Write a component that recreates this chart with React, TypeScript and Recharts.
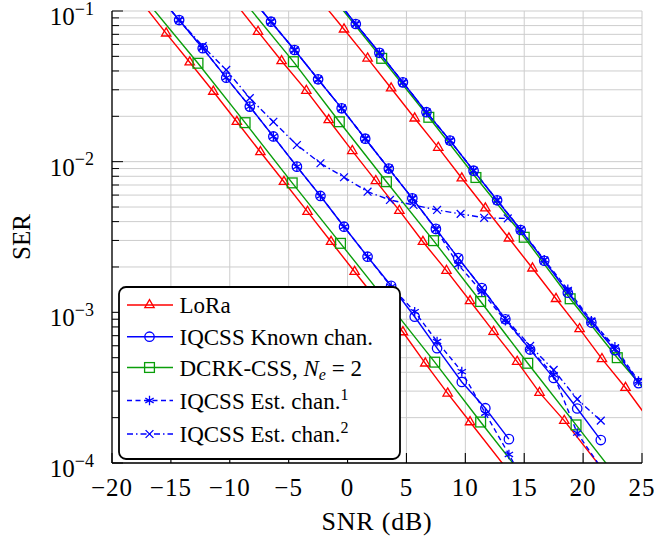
import React from 'react';
import { ComposedChart, Line, XAxis, YAxis, CartesianGrid, Legend } from 'recharts';

const FONT = '"Liberation Serif", "Times New Roman", "DejaVu Serif", serif';
const TXT: React.CSSProperties = { fontFamily: FONT };
const RED = '#ff0000';
const BLUE = '#0000ff';
const GREEN = '#0a9e0a';

// ---------- tick values ----------
const xTicks = [-20, -15, -10, -5, 0, 5, 10, 15, 20, 25];
const yTicks = [
  0.0001, 0.0002, 0.0003, 0.0004, 0.0005, 0.0006, 0.0007, 0.0008, 0.0009,
  0.001, 0.002, 0.003, 0.004, 0.005, 0.006, 0.007, 0.008, 0.009,
  0.01, 0.02, 0.03, 0.04, 0.05, 0.06, 0.07, 0.08, 0.09, 0.1,
];
const yMajor = [0.0001, 0.001, 0.01, 0.1];
const yMajorExp = ['−4', '−3', '−2', '−1'];

// ---------- group A (leftmost) ----------
const loraA_snr = [-17.7, -15.4, -13.4, -11.4, -9.4, -7.4, -5.4, -3.4, -1.4, 0.6, 2.6, 4.7, 6.6, 8.5, 10.4, 14.1];
const loraA_ser = [0.12, 0.0711, 0.0457, 0.0292, 0.0184, 0.0116, 0.00736, 0.00466, 0.00294, 0.00186, 0.00118, 0.00074, 0.000459, 0.00029, 0.000187, 0.00008];

const knownA_snr = [-15.8, -14.3, -12.3, -10.3, -8.3, -6.3, -4.3, -2.3, -0.3, 1.7, 3.7, 5.7, 7.6, 9.7, 11.7, 13.7];
const knownA_ser = [0.12, 0.0871, 0.0566, 0.0361, 0.0232, 0.0147, 0.00927, 0.00592, 0.0037, 0.00234, 0.0015, 0.000935, 0.000578, 0.000345, 0.000231, 0.000144];

const est1A_snr = [-15.8, -14.3, -12.3, -10.3, -8.3, -6.3, -4.3, -2.3, -0.3, 1.7, 3.7, 5.7, 7.6, 9.7, 11.7, 13.7, 14.8];
const est1A_ser = [0.12, 0.0871, 0.0566, 0.0361, 0.0232, 0.0147, 0.00927, 0.00592, 0.0037, 0.00234, 0.00148, 0.00101, 0.00064, 0.000404, 0.000214, 0.000114, 0.00008];

const est2A_snr = [-15.8, -14.3, -12.3, -10.3, -8.3, -6.3, -4.3, -2.3, -0.3, 1.7, 3.6, 5.6, 7.6, 9.6, 11.6, 13.6];
const est2A_ser = [0.12, 0.0871, 0.0585, 0.0406, 0.0264, 0.0184, 0.0129, 0.00976, 0.00788, 0.00632, 0.00557, 0.00516, 0.00478, 0.0045, 0.00424, 0.0042];

const dcrkA_snr = [-17.2, -12.7, -8.7, -4.7, -0.6, 3.4, 7.4, 11.3, 15.0];
const dcrkA_ser = [0.12, 0.045, 0.01815, 0.00723, 0.00287, 0.00116, 0.000467, 0.000187, 0.00008];

// ---------- group B (middle) ----------
const loraB_snr = [-9.8, -7.6, -5.6, -3.5, -1.6, 0.4, 2.4, 4.4, 6.4, 8.4, 10.4, 12.4, 14.4, 16.3, 18.4, 22.2];
const loraB_ser = [0.12, 0.0729, 0.0466, 0.0296, 0.0189, 0.0118, 0.00745, 0.00473, 0.00294, 0.00189, 0.00119, 0.000745, 0.000471, 0.000293, 0.000191, 0.00008];

const knownB_snr = [-8.1, -6.5, -4.5, -2.5, -0.5, 1.5, 3.5, 5.5, 7.5, 9.4, 11.4, 13.4, 15.5, 17.5, 19.5, 21.5];
const knownB_ser = [0.12, 0.0849, 0.0551, 0.0352, 0.0226, 0.0142, 0.009, 0.00571, 0.00358, 0.00229, 0.00145, 0.0009, 0.000566, 0.000367, 0.00023, 0.000142];

const est1B_snr = [-8.1, -6.5, -4.5, -2.5, -0.5, 1.5, 3.5, 5.5, 7.5, 9.4, 11.4, 13.4, 15.5, 17.5, 19.5, 22.1];
const est1B_ser = [0.12, 0.0849, 0.0551, 0.0352, 0.0226, 0.0142, 0.009, 0.00571, 0.00355, 0.00207, 0.00137, 0.00088, 0.00057, 0.000385, 0.000158, 0.00008];

const est2B_snr = [-8.1, -6.5, -4.5, -2.5, -0.5, 1.5, 3.5, 5.5, 7.5, 9.4, 11.4, 13.4, 15.5, 17.5, 19.5, 21.5];
const est2B_ser = [0.12, 0.0849, 0.0551, 0.0352, 0.0226, 0.0142, 0.009, 0.00571, 0.00358, 0.00229, 0.00145, 0.00091, 0.000598, 0.000415, 0.000265, 0.000191];

const dcrkB_snr = [-8.95, -4.6, -0.7, 3.3, 7.3, 11.3, 15.3, 19.4, 22.9];
const dcrkB_ser = [0.12, 0.0461, 0.0184, 0.00736, 0.00299, 0.00118, 0.000459, 0.000179, 0.00008];

// ---------- group C (right) ----------
const loraC_snr = [-2.4, -0.3, 1.7, 3.7, 5.7, 7.7, 9.7, 11.7, 13.7, 15.7, 17.7, 19.7, 21.6, 23.6, 26];
const loraC_ser = [0.12, 0.0756, 0.0485, 0.0307, 0.0194, 0.0124, 0.00776, 0.00491, 0.0031, 0.00196, 0.00123, 0.000776, 0.000491, 0.000316, 0.000175];

const knownC_snr = [-1.0, 0.7, 2.7, 4.7, 6.7, 8.7, 10.7, 12.7, 14.7, 16.7, 18.7, 20.7, 22.7, 24.7];
const knownC_ser = [0.12, 0.082, 0.0528, 0.0336, 0.0213, 0.0138, 0.00871, 0.00554, 0.00352, 0.0022, 0.00135, 0.000855, 0.00056, 0.000339];

const est1C_snr = [-1.0, 0.7, 2.7, 4.7, 6.7, 8.7, 10.7, 12.7, 14.7, 16.7, 18.7, 20.7, 22.7, 24.7];
const est1C_ser = [0.12, 0.082, 0.0528, 0.0336, 0.0213, 0.0138, 0.00871, 0.00556, 0.00355, 0.00223, 0.00142, 0.00088, 0.00059, 0.00035];

const est2C_snr = [-1.0, 0.7, 2.7, 4.7, 6.7, 8.7, 10.7, 12.7, 14.7, 16.7, 18.7, 20.7, 22.7, 24.7];
const est2C_ser = [0.12, 0.082, 0.0528, 0.0336, 0.0213, 0.0138, 0.00871, 0.00554, 0.00352, 0.00221, 0.00137, 0.00087, 0.000575, 0.000345];

const dcrkC_snr = [-1.15, 2.9, 6.9, 10.9, 15.0, 18.9, 22.9, 26];
const dcrkC_ser = [0.12, 0.0485, 0.0197, 0.00785, 0.00315, 0.00123, 0.0005, 0.00026];

const zip = (xs: number[], ys: number[]) => xs.map((x, i) => ({ x, y: ys[i] }));

// ---------- markers ----------
type Kind = 'tri' | 'circ' | 'sq' | 'ast' | 'x';

function Marker({ cx, cy, kind, color }: { cx: number; cy: number; kind: Kind; color: string }) {
  if (cx == null || cy == null || isNaN(cx) || isNaN(cy)) return null;
  const sw = 1.3;
  if (kind === 'tri') {
    const r = 5.4;
    const d = `M${cx},${cy - r} L${cx + r * 0.866},${cy + r * 0.5} L${cx - r * 0.866},${cy + r * 0.5} Z`;
    return <path d={d} fill="none" stroke={color} strokeWidth={sw} />;
  }
  if (kind === 'circ') {
    return <circle cx={cx} cy={cy} r={4.7} fill="none" stroke={color} strokeWidth={sw} />;
  }
  if (kind === 'sq') {
    const h = 4.9;
    return <rect x={cx - h} y={cy - h} width={2 * h} height={2 * h} fill="none" stroke={color} strokeWidth={sw} />;
  }
  if (kind === 'ast') {
    const r = 4.8;
    const a = r * 0.866;
    const b = r * 0.5;
    const d = `M${cx},${cy - r} L${cx},${cy + r} M${cx - a},${cy - b} L${cx + a},${cy + b} M${cx - a},${cy + b} L${cx + a},${cy - b}`;
    return <path d={d} fill="none" stroke={color} strokeWidth={sw} />;
  }
  const r = 3.9;
  const d = `M${cx - r},${cy - r} L${cx + r},${cy + r} M${cx - r},${cy + r} L${cx + r},${cy - r}`;
  return <path d={d} fill="none" stroke={color} strokeWidth={sw} />;
}

const dotFn = (kind: Kind, color: string) => (props: any) => (
  <Marker key={`m-${props.index}`} cx={props.cx} cy={props.cy} kind={kind} color={color} />
);

const DASHED = '5 3.5';
const DASHDOT = '6 3 1.5 3';

type SeriesDef = { name: string; data: { x: number; y: number }[]; color: string; kind: Kind; dash?: string };

const series: SeriesDef[] = [
  { name: 'loraA', data: zip(loraA_snr, loraA_ser), color: RED, kind: 'tri' },
  { name: 'loraB', data: zip(loraB_snr, loraB_ser), color: RED, kind: 'tri' },
  { name: 'loraC', data: zip(loraC_snr, loraC_ser), color: RED, kind: 'tri' },
  { name: 'dcrkA', data: zip(dcrkA_snr, dcrkA_ser), color: GREEN, kind: 'sq' },
  { name: 'dcrkB', data: zip(dcrkB_snr, dcrkB_ser), color: GREEN, kind: 'sq' },
  { name: 'dcrkC', data: zip(dcrkC_snr, dcrkC_ser), color: GREEN, kind: 'sq' },
  { name: 'knownA', data: zip(knownA_snr, knownA_ser), color: BLUE, kind: 'circ' },
  { name: 'knownB', data: zip(knownB_snr, knownB_ser), color: BLUE, kind: 'circ' },
  { name: 'knownC', data: zip(knownC_snr, knownC_ser), color: BLUE, kind: 'circ' },
  { name: 'est1A', data: zip(est1A_snr, est1A_ser), color: BLUE, kind: 'ast', dash: DASHED },
  { name: 'est1B', data: zip(est1B_snr, est1B_ser), color: BLUE, kind: 'ast', dash: DASHED },
  { name: 'est1C', data: zip(est1C_snr, est1C_ser), color: BLUE, kind: 'ast', dash: DASHED },
  { name: 'est2A', data: zip(est2A_snr, est2A_ser), color: BLUE, kind: 'x', dash: DASHDOT },
  { name: 'est2B', data: zip(est2B_snr, est2B_ser), color: BLUE, kind: 'x', dash: DASHDOT },
  { name: 'est2C', data: zip(est2C_snr, est2C_ser), color: BLUE, kind: 'x', dash: DASHDOT },
];

// ---------- ticks ----------
const fmtX = (v: number) => (v < 0 ? `−${-v}` : `${v}`);

const XTickBottom = (p: any) => {
  const { x, y, payload } = p;
  return (
    <g>
      <line x1={x} x2={x} y1={y} y2={y - 10} stroke="#000" strokeWidth={1.1} />
      <text x={x} y={y + 33} textAnchor="middle" style={TXT} fontSize={25} letterSpacing={1} fill="#000">
        {fmtX(payload.value)}
      </text>
    </g>
  );
};

const XTickTop = (p: any) => {
  const { x, y } = p;
  return <line x1={x} x2={x} y1={y} y2={y + 10} stroke="#000" strokeWidth={1.1} />;
};

const majorIndex = (v: number) => yMajor.findIndex((m) => Math.abs(m - v) / m < 1e-6);

const YTickLeft = (p: any) => {
  const { x, y, payload } = p;
  const mi = majorIndex(payload.value);
  const len = mi >= 0 ? 11 : 7;
  return (
    <g>
      <line x1={x} x2={x + len} y1={y} y2={y} stroke="#000" strokeWidth={1} />
      {mi >= 0 && (
        <text x={x - 18} y={y + 14} textAnchor="end" style={TXT} fontSize={25} fill="#000">
          10
          <tspan fontSize={18} dy={-10.5}>
            {yMajorExp[mi]}
          </tspan>
        </text>
      )}
    </g>
  );
};

const YTickRight = (p: any) => {
  const { x, y, payload } = p;
  const mi = majorIndex(payload.value);
  const len = mi >= 0 ? 11 : 7;
  return <line x1={x} x2={x - len} y1={y} y2={y} stroke="#000" strokeWidth={1} />;
};

// ---------- legend ----------
const legendRows: { color: string; kind: Kind; dash?: string }[] = [
  { color: RED, kind: 'tri' },
  { color: BLUE, kind: 'circ' },
  { color: GREEN, kind: 'sq' },
  { color: BLUE, kind: 'ast', dash: DASHED },
  { color: BLUE, kind: 'x', dash: DASHDOT },
];
const rowY = [19, 50.7, 81.5, 114.5, 148];

function LegendBox() {
  const tx = 61.5;
  const fs = 23;
  return (
    <svg width={284} height={175} style={{ display: 'block', overflow: 'visible' }}>
      <rect x={1} y={1} width={281} height={172} rx={7} ry={7} fill="#fff" stroke="#000" strokeWidth={1.8} />
      {legendRows.map((r, i) => (
        <g key={i}>
          <line x1={9} x2={55} y1={rowY[i]} y2={rowY[i]} stroke={r.color} strokeWidth={1.4} strokeDasharray={r.dash} />
          <Marker cx={31.5} cy={rowY[i]} kind={r.kind} color={r.color} />
        </g>
      ))}
      <g style={TXT} fontSize={fs} fill="#000">
        <text x={tx} y={rowY[0] + 8} style={TXT}>LoRa</text>
        <text x={tx} y={rowY[1] + 8} style={TXT}>IQCSS Known chan.</text>
        <text x={tx} y={rowY[2] + 8} style={TXT}>
          DCRK-CSS,{' '}
          <tspan fontStyle="italic">N</tspan>
          <tspan fontStyle="italic" fontSize={16} dy={4}>e</tspan>
          <tspan dy={-4}> = 2</tspan>
        </text>
        <text x={tx} y={rowY[3] + 8} style={TXT}>
          IQCSS Est. chan.
          <tspan fontSize={16} dy={-9}>1</tspan>
        </text>
        <text x={tx} y={rowY[4] + 8} style={TXT}>
          IQCSS Est. chan.
          <tspan fontSize={16} dy={-9}>2</tspan>
        </text>
      </g>
    </svg>
  );
}

export default function App() {
  return (
    <div style={{ position: 'absolute', left: 0, top: 0, width: 654, height: 544, background: '#fff', fontFamily: FONT }}>
      <ComposedChart width={654} height={544} margin={{ top: 11, right: 12, bottom: 0, left: 0 }} style={{ fontFamily: FONT }}>
        <CartesianGrid stroke="#cdcdcd" strokeWidth={1} />
        <XAxis
          dataKey="x"
          type="number"
          domain={[-20, 25]}
          ticks={xTicks}
          allowDataOverflow
          height={81}
          tickSize={0}
          tickMargin={0}
          tickLine={false}
          axisLine={{ stroke: '#000', strokeWidth: 1.3 }}
          tick={XTickBottom}
          interval={0}
          label={() => (
            <text x={377} y={530} textAnchor="middle" style={TXT} fontSize={26} letterSpacing={0.8} fill="#000">
              SNR (dB)
            </text>
          )}
        />
        <XAxis
          xAxisId="top"
          orientation="top"
          dataKey="x"
          type="number"
          domain={[-20, 25]}
          ticks={xTicks}
          allowDataOverflow
          height={0}
          tickSize={0}
          tickMargin={0}
          tickLine={false}
          axisLine={{ stroke: '#000', strokeWidth: 1.3 }}
          tick={XTickTop}
          interval={0}
        />
        <YAxis
          type="number"
          scale="log"
          domain={[0.0001, 0.1]}
          ticks={yTicks}
          allowDataOverflow
          width={112}
          tickSize={0}
          tickMargin={0}
          tickLine={false}
          axisLine={{ stroke: '#000', strokeWidth: 1.3 }}
          tick={YTickLeft}
          interval={0}
          label={() => (
            <text
              x={30}
              y={237}
              transform="rotate(-90, 30, 237)"
              textAnchor="middle"
              style={TXT}
              fontSize={25}
              fill="#000"
            >
              SER
            </text>
          )}
        />
        <YAxis
          yAxisId="right"
          orientation="right"
          type="number"
          scale="log"
          domain={[0.0001, 0.1]}
          ticks={yTicks}
          allowDataOverflow
          width={0}
          tickSize={0}
          tickMargin={0}
          tickLine={false}
          axisLine={{ stroke: '#000', strokeWidth: 1.3 }}
          tick={YTickRight}
          interval={0}
        />
        {series.map((s) => (
          <Line
            key={s.name}
            name={s.name}
            data={s.data}
            dataKey="y"
            type="linear"
            stroke={s.color}
            strokeWidth={1.4}
            strokeDasharray={s.dash}
            dot={dotFn(s.kind, s.color)}
            activeDot={false}
            isAnimationActive={false}
            legendType="none"
          />
        ))}
        <Legend
          layout="vertical"
          align="center"
          verticalAlign="middle"
          content={() => <LegendBox />}
          wrapperStyle={{ position: 'absolute', left: 118, top: 286, right: 'auto', bottom: 'auto', width: 284, height: 175, margin: 0 }}
        />
      </ComposedChart>
    </div>
  );
}
